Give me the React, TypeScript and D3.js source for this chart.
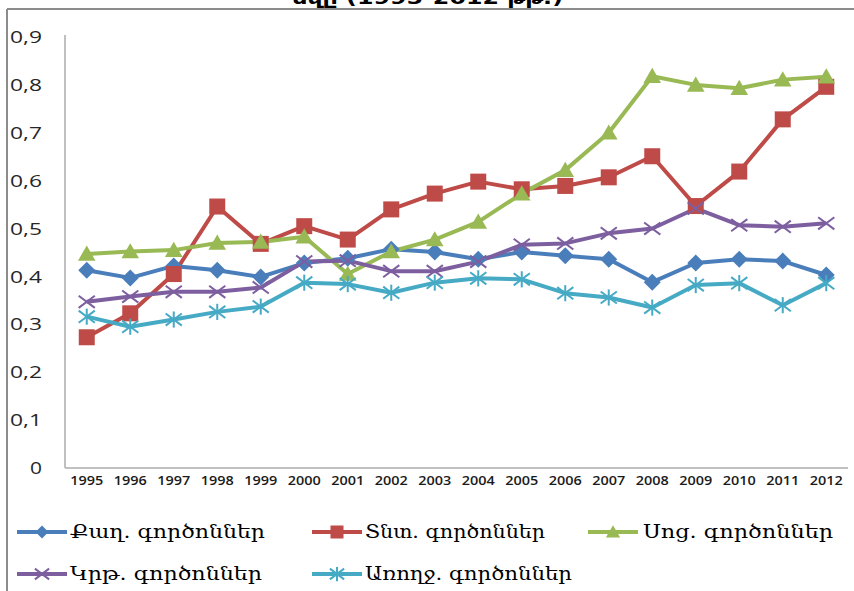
import React from "react";
import * as d3 from "d3";

const years = ["1995","1996","1997","1998","1999","2000","2001","2002","2003","2004","2005","2006","2007","2008","2009","2010","2011","2012"];
const yTicks = [0, 0.1, 0.2, 0.3, 0.4, 0.5, 0.6, 0.7, 0.8, 0.9];
const polValues = [0.413,0.397,0.422,0.413,0.399,0.428,0.438,0.457,0.451,0.436,0.451,0.443,0.436,0.388,0.428,0.436,0.432,0.403];
const econValues = [0.273,0.323,0.405,0.546,0.468,0.505,0.477,0.540,0.573,0.598,0.582,0.589,0.607,0.651,0.547,0.619,0.728,0.796];
const socValues = [0.447,0.452,0.455,0.470,0.472,0.483,0.405,0.452,0.477,0.514,0.573,0.622,0.700,0.818,0.800,0.793,0.811,0.817];
const eduValues = [0.347,0.358,0.368,0.368,0.377,0.431,0.433,0.411,0.411,0.431,0.466,0.469,0.490,0.500,0.542,0.507,0.504,0.511];
const healthValues = [0.316,0.295,0.310,0.326,0.337,0.387,0.384,0.366,0.387,0.396,0.394,0.365,0.356,0.335,0.382,0.386,0.340,0.386];
const seriesNames = ["Քաղ. գործոններ","Տնտ. գործոններ","Սոց. գործոններ","Կրթ. գործոններ","Առողջ. գործոններ"];
const titleText = "ձվը (1995-2012 թթ.)";

type Kind = "diamond" | "square" | "triangle" | "x" | "star";
const series = [
  { name: seriesNames[0], values: polValues, color: "#4a7ebb", kind: "diamond" as Kind },
  { name: seriesNames[1], values: econValues, color: "#be4b48", kind: "square" as Kind },
  { name: seriesNames[2], values: socValues, color: "#98b954", kind: "triangle" as Kind },
  { name: seriesNames[3], values: eduValues, color: "#7d5fa0", kind: "x" as Kind },
  { name: seriesNames[4], values: healthValues, color: "#46aac5", kind: "star" as Kind },
];

function Marker({ kind, x, y, color, s }: { kind: Kind; x: number; y: number; color: string; s: number }) {
  if (kind === "diamond") {
    return <path d={`M${x},${y - s}L${x + s},${y}L${x},${y + s}L${x - s},${y}Z`} fill={color} />;
  }
  if (kind === "square") {
    return <rect x={x - s} y={y - s} width={2 * s} height={2 * s} fill={color} />;
  }
  if (kind === "triangle") {
    return <path d={`M${x},${y - s * 1.05}L${x + s * 1.1},${y + s * 0.85}L${x - s * 1.1},${y + s * 0.85}Z`} fill={color} />;
  }
  if (kind === "x") {
    const r = s * 0.95;
    return (
      <g stroke={color} strokeWidth={2}>
        <line x1={x - r} y1={y - r * 0.75} x2={x + r} y2={y + r * 0.75} />
        <line x1={x - r} y1={y + r * 0.75} x2={x + r} y2={y - r * 0.75} />
      </g>
    );
  }
  const r = s * 0.95;
  return (
    <g stroke={color} strokeWidth={2}>
      <line x1={x - r} y1={y - r * 0.75} x2={x + r} y2={y + r * 0.75} />
      <line x1={x - r} y1={y + r * 0.75} x2={x + r} y2={y - r * 0.75} />
      <line x1={x} y1={y - r} x2={x} y2={y + r} />
    </g>
  );
}

export default function App() {
  const W = 854, H = 591;
  const x = d3.scalePoint<string>().domain(years).range([65, 848]).padding(0.5);
  const y = d3.scaleLinear().domain([0, 0.9]).range([468, 37]);
  const line = d3.line<number>().x((_, i) => x(years[i]) as number).y((v) => y(v));
  const fmt = (v: number) => (v === 0 ? "0" : d3.format(".1f")(v).replace(".", ","));

  const legendPos = [
    { lx: 17, ly: 532, tx: 70, tl: 195 },
    { lx: 312, ly: 532, tx: 365, tl: 180 },
    { lx: 588, ly: 532, tx: 643, tl: 190 },
    { lx: 17, ly: 574, tx: 70, tl: 192 },
    { lx: 312, ly: 574, tx: 365, tl: 207 },
  ];
  const legendSize: Record<Kind, number> = { diamond: 6.5, square: 6.5, triangle: 6.5, x: 7.5, star: 7.5 };

  return (
    <>
      <style>{`body{margin:0;}`}</style>
      <svg width={W} height={H} style={{ display: "block", background: "#fff" }}>
        <text x={428} y={4} textAnchor="middle" fontFamily="DejaVu Sans" fontWeight="bold" fontSize={17} fill="#000" textLength={270} lengthAdjust="spacingAndGlyphs">
          {titleText}
        </text>
        <line x1={7} y1={9} x2={W} y2={9} stroke="#8c8c8c" strokeWidth={2} />
        <line x1={7} y1={9} x2={7} y2={H} stroke="#8c8c8c" strokeWidth={2} />

        <line x1={65} y1={35} x2={65} y2={468} stroke="#c0c0c0" strokeWidth={2} />
        <line x1={65} y1={468} x2={848} y2={468} stroke="#c0c0c0" strokeWidth={2} />

        {yTicks.map((t) => (
          <text key={t} x={42} y={y(t)} dy="0.36em" textAnchor="end" fontFamily="Open Sans" fontSize={17} fill="#262626" textLength={t === 0 ? 12 : 32} lengthAdjust="spacingAndGlyphs">
            {fmt(t)}
          </text>
        ))}
        {years.map((yr) => (
          <text key={yr} x={x(yr)} y={485} textAnchor="middle" fontFamily="Open Sans" fontWeight="600" fontSize={12} fill="#1a1a1a" textLength={33} lengthAdjust="spacingAndGlyphs">
            {yr}
          </text>
        ))}

        {series.map((s) => (
          <path key={s.name + "l"} d={line(s.values) || ""} fill="none" stroke={s.color} strokeWidth={4} strokeLinejoin="round" />
        ))}
        {series.map((s) => (
          <g key={s.name + "m"}>
            {s.values.map((v, i) => (
              <Marker key={i} kind={s.kind} x={x(years[i]) as number} y={y(v)} color={s.color} s={s.kind === "square" ? 8 : s.kind === "triangle" ? 8 : 8.5} />
            ))}
          </g>
        ))}

        {series.map((s, i) => {
          const p = legendPos[i];
          return (
            <g key={s.name + "lg"}>
              <line x1={p.lx} y1={p.ly} x2={p.lx + 50} y2={p.ly} stroke={s.color} strokeWidth={4} />
              <Marker kind={s.kind} x={p.lx + 25} y={p.ly} color={s.color} s={legendSize[s.kind]} />
              <text x={p.tx} y={p.ly} dy="0.32em" fontFamily="DejaVu Serif" fontSize={19} fill="#000" textLength={p.tl} lengthAdjust="spacingAndGlyphs">
                {s.name}
              </text>
            </g>
          );
        })}
      </svg>
    </>
  );
}
